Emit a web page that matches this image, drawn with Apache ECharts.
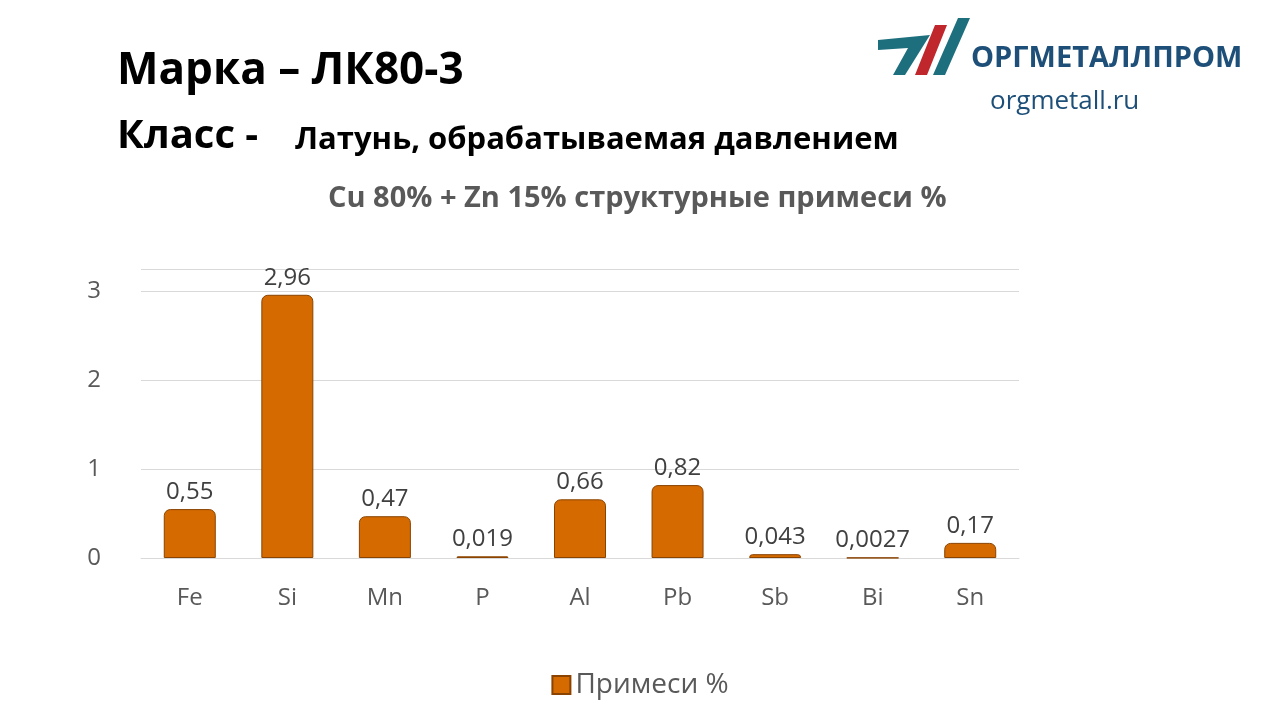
<!DOCTYPE html>
<html><head><meta charset="utf-8">
<script src="https://cdn.jsdelivr.net/npm/echarts@6/dist/echarts.min.js"></script>
<style>html,body{margin:0;background:#fff}#c{width:1280px;height:720px}</style></head>
<body><div id="c"></div>
<script>
const categories=['Fe','Si','Mn','P','Al','Pb','Sb','Bi','Sn'];
const values=[0.55,2.96,0.47,0.019,0.66,0.82,0.043,0.0027,0.17];
const labels=['0,55','2,96','0,47','0,019','0,66','0,82','0,043','0,0027','0,17'];
const seriesName='Примеси %';
const ch=echarts.init(document.getElementById('c'));
const F='"Open Sans", "Noto Sans", sans-serif';
ch.setOption({
 animation:false,
 title:[
  {text:'Марка – ЛК80-3',left:112,top:44,textStyle:{fontFamily:F,fontSize:44,fontWeight:'bold',color:'#000'}},
  {text:'Класс -',left:112,top:112,textStyle:{fontFamily:F,fontSize:40,fontWeight:'bold',color:'#000'}},
  {text:'Латунь, обрабатываемая давлением',left:290,top:120,textStyle:{fontFamily:F,fontSize:31,fontWeight:'bold',color:'#000'}},
  {text:'Cu 80% + Zn 15% структурные примеси %',left:323,top:179,textStyle:{fontFamily:F,fontSize:29,fontWeight:'bold',color:'#595959'}},
  {text:'ОРГМЕТАЛЛПРОМ',left:966,top:39,textStyle:{fontFamily:F,fontSize:29,fontWeight:'bold',color:'#1d4f78'}},
  {text:'orgmetall.ru',left:985,top:84,textStyle:{fontFamily:F,fontSize:26,fontWeight:'normal',color:'#1d4f78'}}
 ],
 graphic:[
  {type:'polygon',shape:{points:[[878,40],[930,35],[905,75],[893,75],[908,48],[878,50]]},style:{fill:'#1d6f7e'}},
  {type:'polygon',shape:{points:[[915,75],[935,25],[947,25],[927,75]]},style:{fill:'#c0272d'}},
  {type:'polygon',shape:{points:[[933,75],[958,18],[970,18],[945,75]]},style:{fill:'#1d6f7e'}}
 ],
 legend:{bottom:16,left:'center',icon:'rect',itemWidth:18,itemHeight:18,textStyle:{fontFamily:F,fontSize:28,color:'#595959'},data:[seriesName]},
 grid:{left:141,right:261,top:269,bottom:162},
 xAxis:{type:'category',data:categories,axisTick:{show:false},axisLine:{lineStyle:{color:'#d9d9d9'}},
  axisLabel:{fontFamily:F,fontSize:24,color:'#595959',margin:28}},
 yAxis:{type:'value',min:0,max:3.25,interval:1,axisLine:{show:false},axisTick:{show:false},
  splitLine:{lineStyle:{color:'#d9d9d9'}},
  axisLabel:{fontFamily:F,fontSize:24,color:'#595959',margin:40,formatter:v=>Number.isInteger(v)?String(v):''}},
 series:[{name:seriesName,type:'bar',barWidth:52,
  data:values.map((v,i)=>({value:v,itemStyle:{color:i===7?'#4a2a0a':'#d46a00'}})),
  itemStyle:{color:'#d46a00',borderColor:'#8a4300',borderWidth:1,borderRadius:[6,6,0,0]},
  label:{show:true,position:'top',fontFamily:F,fontSize:24,color:'#404040',formatter:p=>labels[p.dataIndex]}}]
});
</script></body></html>
